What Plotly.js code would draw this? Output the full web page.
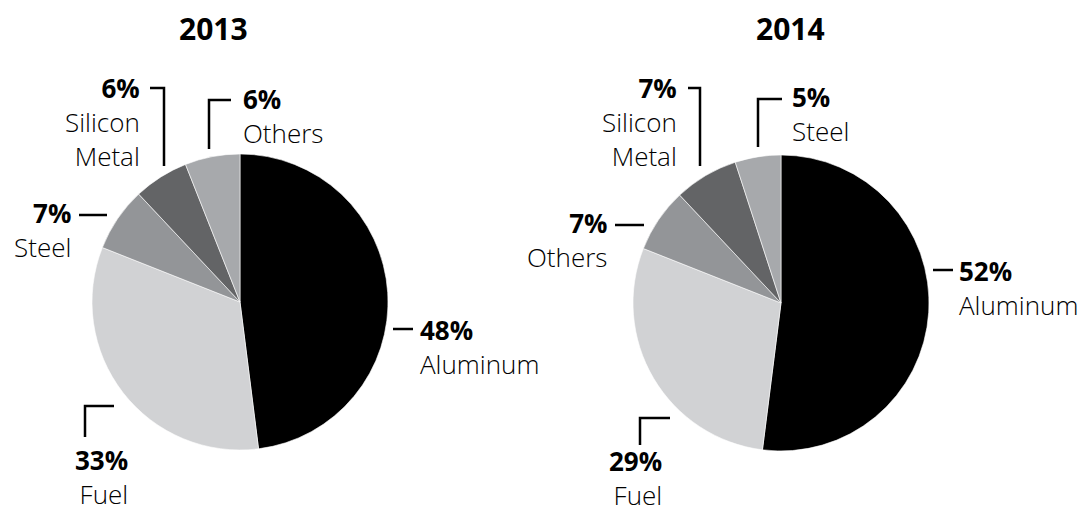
<!DOCTYPE html>
<html>
<head>
<meta charset="utf-8">
<script src="https://cdn.plot.ly/plotly-3.0.1.min.js"></script>
<style>html,body{margin:0;padding:0;background:#fff;}#chart{width:1088px;height:515px;}</style>
</head>
<body>
<div id="chart"></div>
<script>
// ---- data ----
const years = ["2013", "2014"];
const labels2013 = ["Aluminum", "Fuel", "Steel", "Silicon Metal", "Others"];
const values2013 = [48, 33, 7, 6, 6];
const labels2014 = ["Aluminum", "Fuel", "Others", "Silicon Metal", "Steel"];
const values2014 = [52, 29, 7, 7, 5];
const sliceColors = ["#000000", "#d1d2d4", "#939598", "#636466", "#a7a9ac"];

// ---- layout helpers (pixel -> paper) ----
const W = 1088, H = 515;
const px = x => x / W;
const py = y => 1 - y / H;
const FONT = "Open Sans, Lato, sans-serif";

// label placement per slice (pixel positions): [x, centerY of label block, anchor]
const place2013 = [
  [419, 347, "left"],    // Aluminum
  [129, 477, "right"],   // Fuel
  [72, 230, "right"],    // Steel
  [141, 122, "right"],   // Silicon Metal
  [242, 116, "left"]     // Others
];
const place2014 = [
  [958, 288, "left"],    // Aluminum
  [663, 478, "right"],   // Fuel
  [608, 240, "right"],   // Others
  [678, 122, "right"],   // Silicon Metal
  [791, 114, "left"]     // Steel
];
const leaders2013 = [
  [[393,329],[413,329]],
  [[114,406],[85,406],[85,437]],
  [[79,215],[107,215]],
  [[150,88],[164,88],[164,166]],
  [[231,100],[209,100],[209,149]]
];
const leaders2014 = [
  [[933,270],[953,270]],
  [[670,418],[640,418],[640,445]],
  [[615,225],[644,225]],
  [[688,88],[700,88],[700,166]],
  [[782,99],[758,99],[758,147]]
];

function pieTrace(labels, values, cx, cy, r) {
  return {
    type: "pie", labels: labels, values: values, sort: false,
    direction: "clockwise", rotation: 0, textinfo: "none", hoverinfo: "label+percent",
    marker: {colors: sliceColors, line: {color: "#ffffff", width: 0.6}},
    domain: {x: [px(cx - r), px(cx + r)], y: [py(cy + r), py(cy - r)]},
    showlegend: false
  };
}

const annotations = [];
const shapes = [];
function addLabels(labels, values, place, leaders) {
  labels.forEach((lab, i) => {
    const p = place[i];
    annotations.push({
      xref: "paper", yref: "paper", x: px(p[0]), y: py(p[1]),
      xanchor: p[2], yanchor: "middle", showarrow: false, align: p[2],
      borderpad: 0,
      text: "<b>" + values[i] + "%</b><br>" + lab.replace(" ", "<br>"),
      font: {family: FONT, size: 26, weight: 300, color: "#000"}
    });
    const pts = leaders[i];
    const path = pts.map((q, k) => (k ? "L" : "M") + px(q[0]) + "," + py(q[1])).join(" ");
    shapes.push({type: "path", xref: "paper", yref: "paper", path: path,
      line: {color: "#000", width: 2.5}});
  });
}
addLabels(labels2013, values2013, place2013, leaders2013);
addLabels(labels2014, values2014, place2014, leaders2014);

const titlePos = [[213, 28], [790, 28]];
years.forEach((yr, i) => {
  annotations.push({
    xref: "paper", yref: "paper", x: px(titlePos[i][0]), y: py(titlePos[i][1]),
    xanchor: "center", yanchor: "middle", showarrow: false,
    text: "<b>" + yr + "</b>",
    font: {family: FONT, size: 30, color: "#000"}
  });
});

const data = [
  pieTrace(labels2013, values2013, 240, 302, 148),
  pieTrace(labels2014, values2014, 781, 303, 148)
];
const layout = {
  width: W, height: H, margin: {l: 0, r: 0, t: 0, b: 0},
  paper_bgcolor: "#fff", plot_bgcolor: "#fff",
  annotations: annotations, shapes: shapes, showlegend: false
};
Plotly.newPlot("chart", data, layout, {displayModeBar: false, staticPlot: true});
</script>
</body>
</html>
